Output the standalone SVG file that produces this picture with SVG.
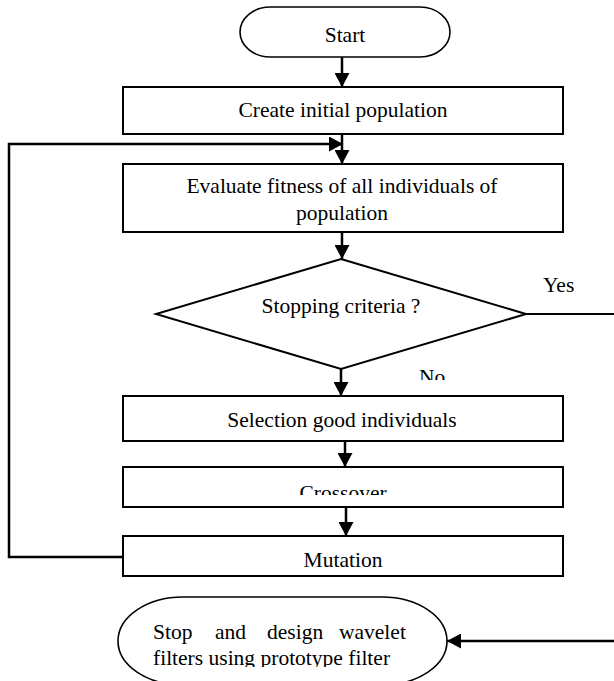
<svg xmlns="http://www.w3.org/2000/svg" width="614" height="681" viewBox="0 0 614 681">
<style>
.box{fill:#fff;stroke:#000;stroke-width:2}
.term{fill:#fff;stroke:#000;stroke-width:1.6}
.lbl{font-family:"Liberation Serif","Times New Roman",serif;font-size:21.5px;fill:#000}
.c{text-anchor:middle}
.conn{fill:none;stroke:#000;stroke-width:2.5}
</style>
<defs>
<marker id="ah" viewBox="0 0 14 15" refX="14" refY="7.5" markerWidth="14" markerHeight="15" markerUnits="userSpaceOnUse" orient="auto">
<path d="M0,0 L14,7.5 L0,15 Z" fill="#000"/>
</marker>
<clipPath id="clipNo"><rect x="400" y="360" width="80" height="20"/></clipPath>
<clipPath id="clipCross"><rect x="124" y="468" width="438" height="27"/></clipPath>
<clipPath id="clipStop"><rect x="100" y="590" width="360" height="77"/></clipPath>
</defs>
<rect width="614" height="681" fill="#fff"/>

<g id="connectors">
<line class="conn" x1="342" y1="57" x2="342" y2="87" marker-end="url(#ah)"/>
<line class="conn" x1="342" y1="134" x2="342" y2="164" marker-end="url(#ah)"/>
<polyline class="conn" points="123,557 9,557 9,144 343,144" marker-end="url(#ah)"/>
<line class="conn" x1="342" y1="232" x2="342" y2="259" marker-end="url(#ah)"/>
<line class="conn" x1="341" y1="369" x2="341" y2="396" marker-end="url(#ah)"/>
<line class="conn" x1="345" y1="441" x2="345" y2="467" marker-end="url(#ah)"/>
<line class="conn" x1="346" y1="504" x2="346" y2="536" marker-end="url(#ah)"/>
<line class="conn" x1="526" y1="314" x2="614" y2="314" style="stroke-width:2"/>
<line class="conn" x1="614" y1="641" x2="447" y2="641" marker-end="url(#ah)"/>
<text class="lbl" x="543" y="292">Yes</text>
<text class="lbl" x="419" y="384" clip-path="url(#clipNo)">No</text>
</g>

<g id="start">
<rect class="term" x="240" y="7" width="210" height="50" rx="30" ry="25"/>
<text class="lbl c" x="345" y="42">Start</text>
</g>

<g id="create">
<rect class="box" x="123" y="87" width="440" height="47"/>
<text class="lbl c" x="343" y="117">Create initial population</text>
</g>

<g id="evaluate">
<rect class="box" x="123" y="164" width="440" height="68"/>
<text class="lbl c" x="342" y="193">Evaluate fitness of all individuals of</text>
<text class="lbl c" x="342" y="220">population</text>
</g>

<g id="decision">
<polygon class="box" points="341,259 526,314 341,369 156,314"/>
<text class="lbl c" x="341" y="313">Stopping criteria ?</text>
</g>

<g id="selection">
<rect class="box" x="123" y="396" width="440" height="45"/>
<text class="lbl c" x="342" y="427">Selection good individuals</text>
</g>

<g id="crossover">
<rect class="box" x="123" y="467" width="440" height="40"/>
<text class="lbl c" x="343" y="500" clip-path="url(#clipCross)">Crossover</text>
</g>

<g id="mutation">
<rect class="box" x="123" y="536" width="440" height="40"/>
<text class="lbl c" x="343" y="567">Mutation</text>
</g>

<g id="stop">
<rect class="term" x="118" y="597" width="329" height="88" rx="65" ry="44"/>
<g clip-path="url(#clipStop)">
<text class="lbl" y="639"><tspan x="153">Stop</tspan><tspan x="215">and</tspan><tspan x="267">design</tspan><tspan x="339">wavelet</tspan></text>
<text class="lbl" x="153" y="665">filters using prototype filter</text>
</g>
</g>
</svg>
